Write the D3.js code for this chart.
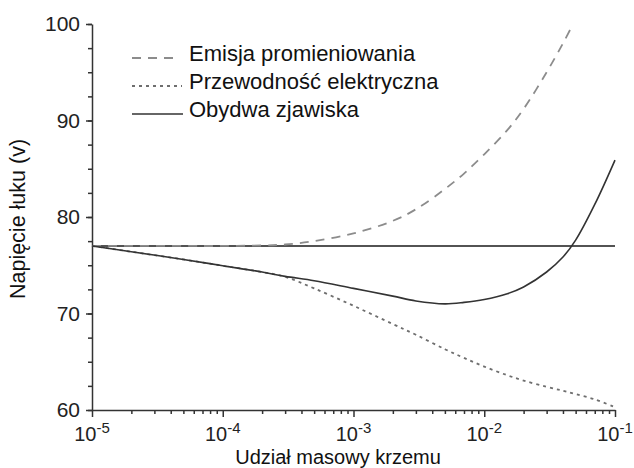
<!DOCTYPE html>
<html>
<head>
<meta charset="utf-8">
<script src="https://cdn.jsdelivr.net/npm/d3@7"></script>
<style>
  body { margin: 0; background: #fff; }
  text { font-family: "Liberation Sans", Arial, sans-serif; }
</style>
</head>
<body>
<div id="chart"></div>
<script>
  // data
  const massFraction = [1e-5, 2e-5, 5e-5, 1e-4, 2e-4, 3e-4, 5e-4, 1e-3, 2e-3, 3e-3, 5e-3, 7e-3, 1e-2, 1.5e-2, 2e-2, 3e-2, 4e-2, 5e-2, 7e-2, 1e-1];
  const emissionX = [1e-5, 2e-5, 5e-5, 1e-4, 2e-4, 3e-4, 5e-4, 1e-3, 2e-3, 3e-3, 5e-3, 7e-3, 1e-2, 1.5e-2, 2e-2, 3e-2, 4e-2, 4.7e-2];
  const emissionV = [77.0, 77.0, 77.0, 77.0, 77.05, 77.15, 77.5, 78.3, 79.6, 80.8, 82.9, 84.5, 86.5, 89.0, 91.2, 95.0, 98.0, 99.8];
  const conductivityV = [77.0, 76.4, 75.6, 74.95, 74.3, 73.8, 72.6, 70.8, 68.9, 67.8, 66.3, 65.4, 64.5, 63.6, 63.05, 62.4, 62.0, 61.65, 61.1, 60.3];
  const envelopeV = [77.0, 76.4, 75.6, 74.95, 74.3, 73.85, 73.4, 72.6, 71.8, 71.3, 71.0, 71.15, 71.45, 72.05, 72.75, 74.3, 75.85, 77.6, 81.3, 85.9];
  const referenceV = 77.0;

  const yMajor = [60, 70, 80, 90, 100];
  const yMinor = d3.range(60, 100.1, 2.5);
  const xMajor = [1e-5, 1e-4, 1e-3, 1e-2, 1e-1];
  const xMajorExp = ["-5", "-4", "-3", "-2", "-1"];

  const legendLabels = ["Emisja promieniowania", "Przewodność elektryczna", "Obydwa zjawiska"];

  const width = 634, height = 468;
  const margin = {top: 24, right: 19, bottom: 58, left: 92};

  const svg = d3.select("#chart")
    .append("svg")
      .attr("width", width)
      .attr("height", height);

  const x = d3.scaleLog()
    .domain([1e-5, 1e-1])
    .range([margin.left, width - margin.right]);

  const y = d3.scaleLinear()
    .domain([60, 100])
    .range([height - margin.bottom, margin.top]);

  const axisColor = "#333";

  // y axis: minor ticks then major ticks with labels
  svg.append("g")
    .attr("transform", `translate(${margin.left},0)`)
    .call(d3.axisLeft(y).tickValues(yMinor).tickSize(4).tickFormat(""))
    .call(g => g.select(".domain").remove())
    .selectAll("line").attr("stroke", axisColor).attr("stroke-width", 1.5);

  const yAxis = svg.append("g")
    .attr("transform", `translate(${margin.left},0)`)
    .call(d3.axisLeft(y).tickValues(yMajor).tickSize(6).tickSizeOuter(0).tickPadding(6));
  yAxis.select(".domain").attr("stroke", axisColor).attr("stroke-width", 1.5);
  yAxis.selectAll("line").attr("stroke", axisColor).attr("stroke-width", 1.5);
  yAxis.selectAll("text")
    .attr("font-size", 21)
    .attr("font-family", "'Liberation Sans', Arial, sans-serif")
    .attr("fill", "#222");

  // x axis: all log minor ticks, then major ticks
  const xMinor = x.ticks().filter(v => !xMajor.some(m => Math.abs(m - v) / m < 1e-9));
  svg.append("g")
    .attr("transform", `translate(0,${height - margin.bottom})`)
    .call(d3.axisBottom(x).tickValues(xMinor).tickSize(4).tickFormat(""))
    .call(g => g.select(".domain").remove())
    .selectAll("line").attr("stroke", axisColor).attr("stroke-width", 1.5);

  const xAxis = svg.append("g")
    .attr("transform", `translate(0,${height - margin.bottom})`)
    .call(d3.axisBottom(x).tickValues(xMajor).tickSize(7).tickSizeOuter(0).tickFormat(""));
  xAxis.select(".domain").attr("stroke", axisColor).attr("stroke-width", 1.5);
  xAxis.selectAll("line").attr("stroke", axisColor).attr("stroke-width", 1.5);

  // tick labels as 10 with superscript exponent
  const xLabels = svg.append("g")
    .attr("font-size", 20)
    .attr("fill", "#222")
    .attr("text-anchor", "middle");
  xMajor.forEach((v, i) => {
    const t = xLabels.append("text")
      .attr("x", x(v))
      .attr("y", height - margin.bottom + 31);
    t.append("tspan").text("10");
    t.append("tspan")
      .attr("font-size", 15)
      .attr("dy", -8)
      .text(xMajorExp[i]);
  });

  // axis titles
  svg.append("text")
    .attr("x", 338)
    .attr("y", 463.5)
    .attr("text-anchor", "middle")
    .attr("font-size", 20)
    .attr("fill", "#111")
    .text("Udział masowy krzemu");

  svg.append("text")
    .attr("transform", `translate(25, ${(margin.top + height - margin.bottom) / 2 + 2}) rotate(-90)`)
    .attr("text-anchor", "middle")
    .attr("font-size", 21.5)
    .attr("fill", "#111")
    .text("Napięcie łuku (v)");

  const line = d3.line()
    .curve(d3.curveCatmullRom.alpha(0.5))
    .x(d => x(d[0]))
    .y(d => y(d[1]));

  // horizontal reference line
  svg.append("path")
    .datum([[massFraction[0], referenceV], [massFraction[massFraction.length - 1], referenceV]])
    .attr("fill", "none")
    .attr("stroke", "#1a1a1a")
    .attr("stroke-width", 1.5)
    .attr("d", line);

  const styles = [
    {color: "#8c8c8c", dash: "9,7", width: 1.8},
    {color: "#6e6e6e", dash: "3,4", width: 1.8},
    {color: "#333", dash: null, width: 1.6}
  ];

  const series = [
    d3.zip(emissionX, emissionV),
    d3.zip(massFraction, conductivityV),
    d3.zip(massFraction, envelopeV)
  ];

  svg.selectAll(".curve")
    .data(series)
    .join("path")
      .attr("class", "curve")
      .attr("fill", "none")
      .attr("stroke", (d, i) => styles[i].color)
      .attr("stroke-width", (d, i) => styles[i].width)
      .attr("stroke-dasharray", (d, i) => styles[i].dash)
      .attr("d", line);

  // legend
  const legend = svg.append("g").attr("transform", "translate(132,58)");
  const rowGap = 28;
  const sampleLen = [42, 50, 51];
  legendLabels.forEach((label, i) => {
    legend.append("line")
      .attr("x1", 0).attr("x2", sampleLen[i])
      .attr("y1", i * rowGap).attr("y2", i * rowGap)
      .attr("stroke", styles[i].color)
      .attr("stroke-width", styles[i].width)
      .attr("stroke-dasharray", styles[i].dash);
    legend.append("text")
      .attr("x", 57)
      .attr("y", i * rowGap + 3)
      .attr("font-size", 22)
      .attr("fill", "#111")
      .text(label);
  });
</script>
</body>
</html>
